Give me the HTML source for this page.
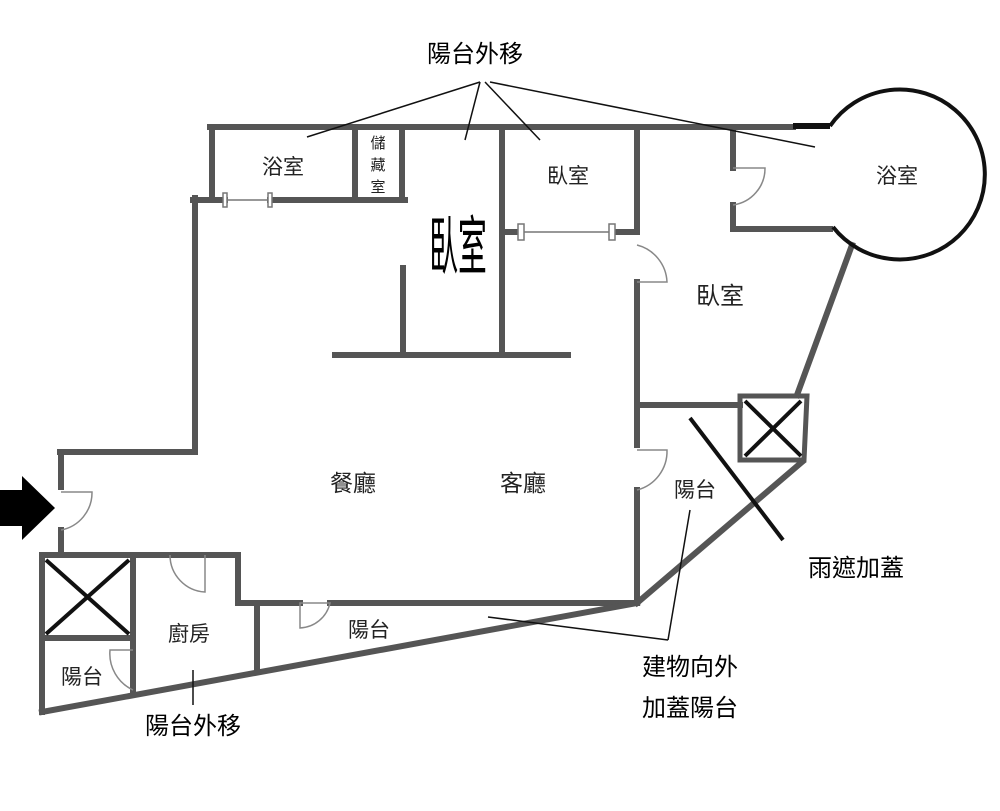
<!DOCTYPE html>
<html><head><meta charset="utf-8"><style>
body{margin:0;background:#fff}
svg{display:block}
text{font-family:"Liberation Sans","Noto Sans CJK TC",sans-serif;fill:#222}
</style></head><body>
<svg width="1000" height="811" viewBox="0 0 1000 811">
<g stroke="#555" stroke-width="6" fill="none" stroke-linecap="square">
<line x1="210" y1="127" x2="793" y2="127"/>
<line x1="212" y1="127" x2="212" y2="198"/>
<line x1="193" y1="200" x2="225" y2="200"/>
<line x1="270" y1="200" x2="405" y2="200"/>
<line x1="195" y1="198" x2="195" y2="452"/>
<line x1="60" y1="452" x2="195" y2="452"/>
<line x1="61" y1="452" x2="61" y2="487"/>
<line x1="61" y1="530" x2="61" y2="555"/>
<line x1="355" y1="127" x2="355" y2="200"/>
<line x1="402" y1="127" x2="402" y2="200"/>
<line x1="502" y1="127" x2="502" y2="355"/>
<line x1="335" y1="355" x2="568" y2="355"/>
<line x1="403" y1="268" x2="403" y2="355"/>
<line x1="637" y1="127" x2="637" y2="232"/>
<line x1="637" y1="282" x2="637" y2="445"/>
<line x1="637" y1="490" x2="637" y2="603"/>
<line x1="502" y1="232" x2="520" y2="232"/>
<line x1="612" y1="232" x2="637" y2="232"/>
<line x1="733" y1="127" x2="733" y2="168"/>
<line x1="733" y1="205" x2="733" y2="229"/>
<line x1="733" y1="229" x2="830" y2="229"/>
<line x1="852" y1="245" x2="797" y2="395"/>
<polygon points="740,396 807,396 804,460 740,460" stroke-width="5"/>
<line x1="802" y1="462" x2="637" y2="603"/>
<line x1="637" y1="405" x2="740" y2="405"/>
<line x1="257" y1="603" x2="300" y2="603"/>
<line x1="330" y1="603" x2="637" y2="603"/>
<line x1="257" y1="603" x2="257" y2="668"/>
<line x1="42" y1="555" x2="238" y2="555"/>
<line x1="238" y1="555" x2="238" y2="603"/>
<line x1="238" y1="603" x2="257" y2="603"/>
<line x1="42" y1="712" x2="637" y2="603"/>
<line x1="42" y1="555" x2="42" y2="712"/>
<line x1="133" y1="555" x2="133" y2="690"/>
<line x1="42" y1="638" x2="133" y2="638"/>
</g>
<line x1="793" y1="126" x2="830" y2="126" stroke="#111" stroke-width="6"/>
<path d="M830,126 A85,85 0 1 1 833,227" stroke="#111" stroke-width="4" fill="none"/>
<g stroke="#111" stroke-width="4">
<line x1="46" y1="560" x2="129" y2="634"/><line x1="129" y1="560" x2="46" y2="634"/>
<line x1="745" y1="401" x2="801" y2="456"/><line x1="801" y1="401" x2="745" y2="456"/>
</g>
<g stroke="#777" stroke-width="1.5" fill="#fff">
<line x1="225" y1="200" x2="270" y2="200"/>
<rect x="223" y="193" width="4" height="14"/><rect x="268" y="193" width="4" height="14"/>
<line x1="520" y1="232" x2="612" y2="232"/>
<rect x="518" y="224" width="6" height="16"/><rect x="609" y="224" width="6" height="16"/>
</g>
<g stroke="#888" stroke-width="1.5" fill="none">
<path d="M637,245 A40,40 0 0 1 667,282 L637,282"/>
<path d="M733,168 H765 A37,37 0 0 1 733,205"/>
<path d="M637,450 H667 A40,40 0 0 1 637,490"/>
<path d="M61,492 H92 A38,38 0 0 1 61,530"/>
<path d="M170,555 A37,37 0 0 0 205,592 V555"/>
<path d="M300,603 H330 A32,32 0 0 1 300,628 Z"/>
<path d="M133,650 H110 A40,40 0 0 0 133,690"/>
</g>
<polygon points="0,490 22,490 22,476 55,508 22,540 22,526 0,526" fill="#000"/>
<g stroke="#111" stroke-width="1.5">
<line x1="480" y1="82" x2="307" y2="137"/>
<line x1="480" y1="82" x2="465" y2="140"/>
<line x1="485" y1="82" x2="540" y2="140"/>
<line x1="490" y1="82" x2="815" y2="147"/>
<line x1="668" y1="640" x2="690" y2="510"/>
<line x1="668" y1="640" x2="488" y2="617"/>
<line x1="193" y1="670" x2="193" y2="705"/>
</g>
<line x1="690" y1="418" x2="783" y2="540" stroke="#111" stroke-width="4"/>
<g font-size="21" text-anchor="middle">
<text x="283" y="174">浴室</text>
<text x="568" y="183">臥室</text>
<text x="720" y="304" font-size="24">臥室</text>
<text x="897" y="183">浴室</text>
<text x="353" y="491" font-size="23">餐廳</text>
<text x="523" y="491" font-size="23">客廳</text>
<text x="695" y="497">陽台</text>
<text x="189" y="641">廚房</text>
<text x="369" y="637">陽台</text>
<text x="82" y="684">陽台</text>
<text x="378" y="148" font-size="15">儲</text>
<text x="378" y="170" font-size="15">藏</text>
<text x="378" y="192" font-size="15">室</text>
<text x="458" y="262" font-size="40" style="fill:#000" transform="translate(458,250) scale(0.72,1.6) translate(-458,-250)">臥室</text>
<text x="475" y="62" font-size="24" style="fill:#000">陽台外移</text>
<text x="856" y="576" font-size="24" style="fill:#000">雨遮加蓋</text>
<text x="690" y="675" font-size="24" style="fill:#000">建物向外</text>
<text x="690" y="716" font-size="24" style="fill:#000">加蓋陽台</text>
<text x="193" y="734" font-size="24" style="fill:#000">陽台外移</text>
</g>
</svg>
</body></html>
